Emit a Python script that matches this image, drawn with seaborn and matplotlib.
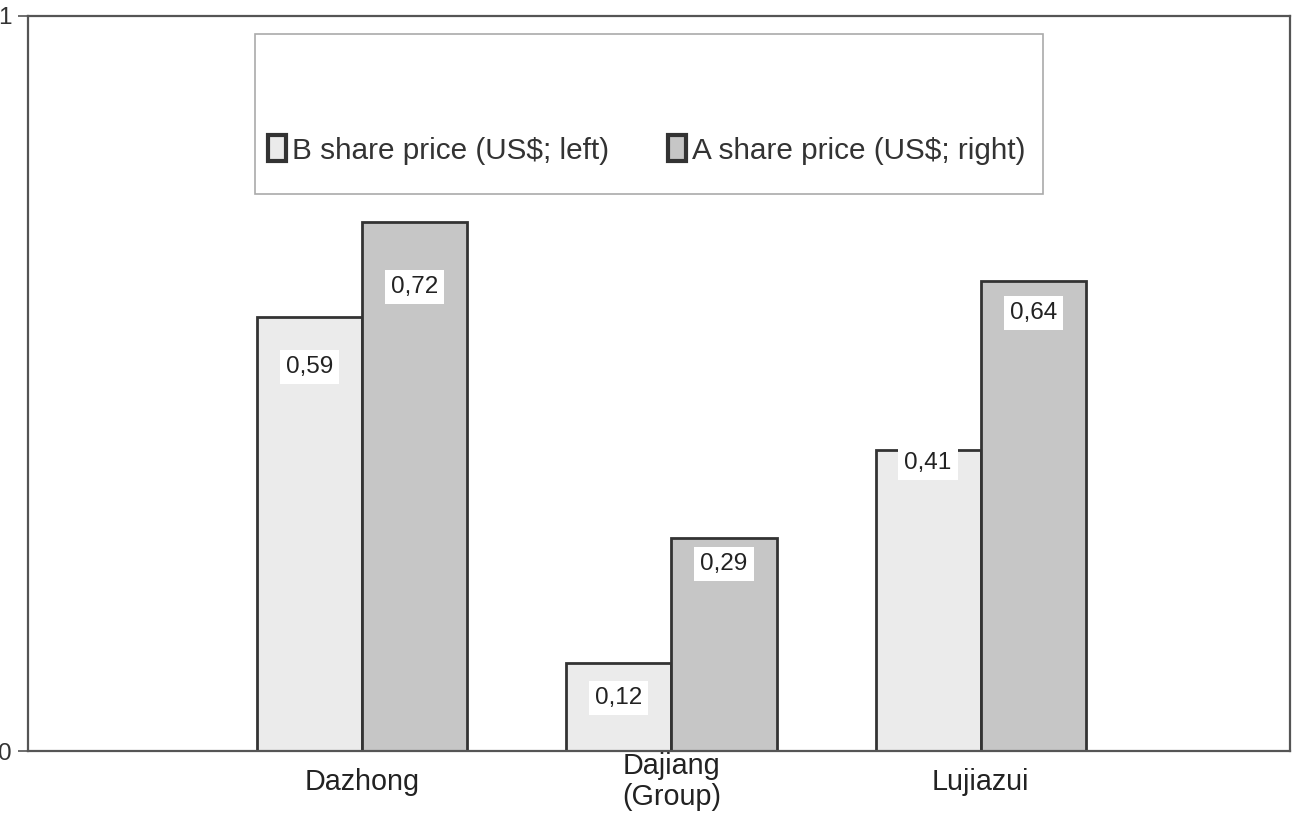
import matplotlib
matplotlib.use("Agg")
import matplotlib.pyplot as plt
import seaborn as sns
import pandas as pd
from matplotlib.patches import Rectangle, Patch
from matplotlib import font_manager

companies = ["Dazhong", "Dajiang\n(Group)", "Lujiazui"]
series = ["B share price (US$; left)", "A share price (US$; right)"]
b_values = [0.59, 0.12, 0.41]
a_values = [0.72, 0.29, 0.64]
y_ticks = [0, 1]

# layout: label offsets below bar top (pixels), per series
b_label_offsets = [50, 35, 13]
a_label_offsets = [65, 26, 32]

sns.set_theme(style="white")
names = {f.name for f in font_manager.fontManager.ttflist}
if "Liberation Sans Narrow" in names:
    fam = ["Liberation Sans Narrow", "Liberation Sans", "DejaVu Sans"]
    k = 1.2
else:
    fam = ["Liberation Sans", "DejaVu Sans"]
    k = 1.0
plt.rcParams["font.family"] = fam

df = pd.DataFrame({
    "company": companies * 2,
    "series": [series[0]] * 3 + [series[1]] * 3,
    "value": b_values + a_values,
})

fig = plt.figure(figsize=(12.95, 8.22), dpi=100)
ax = fig.add_axes([28 / 1295, 71 / 822, 1262 / 1295, 735 / 822])

colors = {series[0]: "#ebebeb", series[1]: "#c6c6c6"}
sns.barplot(data=df, x="company", y="value", hue="series", order=companies,
            hue_order=series, palette=colors, width=0.68, gap=0,
            edgecolor="#333333", linewidth=2, saturation=1, ax=ax, legend=False)

ax.set_xlim(-1.08, 3.0)
ax.set_ylim(0, 1)
ax.set_yticks(y_ticks)
ax.set_yticklabels([str(t) for t in y_ticks], fontsize=17.5 * k, color="#333333")
ax.tick_params(axis="y", direction="out", length=7, width=1.2, color="#555555", pad=5, left=True)
ax.tick_params(axis="x", length=0, labelsize=20.7 * k, pad=22, colors="#222222")
for lab in ax.get_xticklabels():
    lab.set_verticalalignment("center")
    lab.set_linespacing(1.15)
ax.set_xlabel("")
ax.set_ylabel("")
for s in ax.spines.values():
    s.set_visible(True)
    s.set_color("#555555")
    s.set_linewidth(1.6)

# value labels
for cont, offsets in zip(ax.containers, [b_label_offsets, a_label_offsets]):
    for bar, off in zip(cont, offsets):
        h = bar.get_height()
        ax.annotate(f"{h:.2f}".replace(".", ","),
                    xy=(bar.get_x() + bar.get_width() / 2, h),
                    xytext=(0, -off * 0.72), textcoords="offset points",
                    ha="center", va="center", fontsize=17.5 * k, color="#222222",
                    bbox=dict(boxstyle="square,pad=0.25", fc="white", ec="none"))

# legend box
lx0, lx1 = (255 - 28) / 1262, (1043 - 28) / 1262
ly0, ly1 = (751 - 194) / 735, (751 - 34) / 735
ax.add_patch(Rectangle((lx0, ly0), lx1 - lx0, ly1 - ly0, transform=ax.transAxes,
                       fc="white", ec="#aaaaaa", lw=1.2, zorder=5))
handles = [Patch(fc=colors[s], ec="#333333", lw=3, label=s) for s in series]
leg = ax.legend(handles=handles, loc="center left", ncol=2, frameon=False,
                bbox_to_anchor=((268 - 28) / 1262, (751 - 150) / 735),
                fontsize=21.4 * k, handlelength=0.6, handleheight=0.95,
                handletextpad=0.2, columnspacing=2.0, borderpad=0, borderaxespad=0)
leg.set_zorder(6)
for t in leg.get_texts():
    t.set_color("#333333")

fig.savefig("out.png", dpi=100, facecolor="white")
